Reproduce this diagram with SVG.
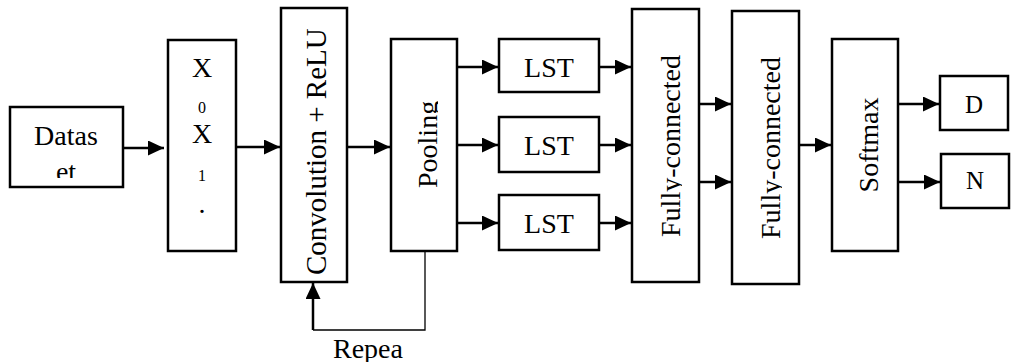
<svg xmlns="http://www.w3.org/2000/svg" width="1012" height="362" viewBox="0 0 1012 362">
<style>
.box{fill:#fff;stroke:#000;stroke-width:2.5}
.t{font-family:"Liberation Serif","Times New Roman",serif;font-size:28px;fill:#000;text-anchor:middle}
.ts{font-family:"Liberation Serif","Times New Roman",serif;font-size:16px;fill:#000;text-anchor:middle}
.v{font-family:"Liberation Serif","Times New Roman",serif;font-size:28px;fill:#000;text-anchor:middle}
.c{fill:none;stroke:#000;stroke-width:2.5}
.thin{fill:none;stroke:#000;stroke-width:1.3}
</style>
<defs>
<marker id="ah" markerUnits="userSpaceOnUse" markerWidth="16" markerHeight="15" refX="16" refY="7.5" orient="auto">
<path d="M0,0 L16,7.5 L0,15 z" fill="#000"/>
</marker>
<clipPath id="clipDs"><rect x="10" y="107" width="113" height="71"/></clipPath>
<clipPath id="clipConv"><rect x="281" y="22" width="66" height="260"/></clipPath>
<clipPath id="clipPool"><rect x="391" y="40" width="47" height="210"/></clipPath>
<clipPath id="clipFc1"><rect x="632" y="9" width="50" height="273"/></clipPath>
<clipPath id="clipFc2"><rect x="732" y="11" width="50" height="273"/></clipPath>
</defs>

<g id="connectors">
<line class="c" x1="123" y1="148" x2="164" y2="148" marker-end="url(#ah)"/>
<line class="c" x1="236" y1="147" x2="280" y2="147" marker-end="url(#ah)"/>
<line class="c" x1="347" y1="147" x2="390" y2="147" marker-end="url(#ah)"/>
<line class="c" x1="457" y1="67" x2="498" y2="67" marker-end="url(#ah)"/>
<line class="c" x1="457" y1="145" x2="498" y2="145" marker-end="url(#ah)"/>
<line class="c" x1="457" y1="223" x2="498" y2="223" marker-end="url(#ah)"/>
<line class="c" x1="599" y1="67" x2="631" y2="67" marker-end="url(#ah)"/>
<line class="c" x1="599" y1="145" x2="631" y2="145" marker-end="url(#ah)"/>
<line class="c" x1="599" y1="223" x2="631" y2="223" marker-end="url(#ah)"/>
<line class="c" x1="699" y1="104" x2="731" y2="104" marker-end="url(#ah)"/>
<line class="c" x1="699" y1="182" x2="731" y2="182" marker-end="url(#ah)"/>
<line class="c" x1="799" y1="145" x2="831" y2="145" marker-end="url(#ah)"/>
<line class="c" x1="898" y1="104" x2="939" y2="104" marker-end="url(#ah)"/>
<line class="c" x1="898" y1="182" x2="940" y2="182" marker-end="url(#ah)"/>
<polyline class="thin" points="425,251 425,330 313,330"/>
<line class="c" x1="313" y1="330" x2="313" y2="283" marker-end="url(#ah)"/>
<text class="t" x="368" y="358">Repea</text>
</g>

<g id="dataset">
<rect class="box" x="10" y="107" width="113" height="80"/>
<g clip-path="url(#clipDs)">
<text class="t" x="66" y="145">Datas</text>
<text class="t" x="66" y="181">et</text>
</g>
</g>

<g id="inputs">
<rect class="box" x="168" y="40" width="68" height="211"/>
<text class="t" x="202" y="77">X</text>
<text class="ts" x="202" y="113">0</text>
<text class="t" x="202" y="143">X</text>
<text class="ts" x="202" y="181">1</text>
<text class="t" x="202" y="213">.</text>
</g>

<g id="conv">
<rect class="box" x="281" y="8" width="66" height="274"/>
<g clip-path="url(#clipConv)">
<text class="v" style="font-size:29px;text-anchor:start" transform="translate(326,275) rotate(-90)">Convolution + ReLU</text>
</g>
</g>

<g id="pooling">
<rect class="box" x="391" y="39" width="66" height="212"/>
<g clip-path="url(#clipPool)">
<text class="v" style="text-anchor:start" transform="translate(437,188) rotate(-90)">Pooling</text>
</g>
</g>

<g id="lst1">
<rect class="box" x="499" y="39" width="100" height="53"/>
<text class="t" x="549" y="77">LST</text>
</g>
<g id="lst2">
<rect class="box" x="499" y="117" width="100" height="55"/>
<text class="t" x="549" y="155">LST</text>
</g>
<g id="lst3">
<rect class="box" x="499" y="195" width="100" height="55"/>
<text class="t" x="549" y="233">LST</text>
</g>

<g id="fc1">
<rect class="box" x="632" y="9" width="67" height="273"/>
<g clip-path="url(#clipFc1)">
<text class="v" transform="translate(680,146) rotate(-90)">Fully-connected</text>
</g>
</g>

<g id="fc2">
<rect class="box" x="732" y="11" width="67" height="273"/>
<g clip-path="url(#clipFc2)">
<text class="v" transform="translate(780,148) rotate(-90)">Fully-connected</text>
</g>
</g>

<g id="softmax">
<rect class="box" x="832" y="39" width="66" height="212"/>
<text class="v" transform="translate(878,145) rotate(-90)">Softmax</text>
</g>

<g id="outD">
<rect class="box" x="940" y="76" width="68" height="54"/>
<text class="t" style="font-size:25px" x="974" y="113">D</text>
</g>
<g id="outN">
<rect class="box" x="941" y="154" width="68" height="54"/>
<text class="t" style="font-size:25px" x="975" y="189">N</text>
</g>
</svg>
